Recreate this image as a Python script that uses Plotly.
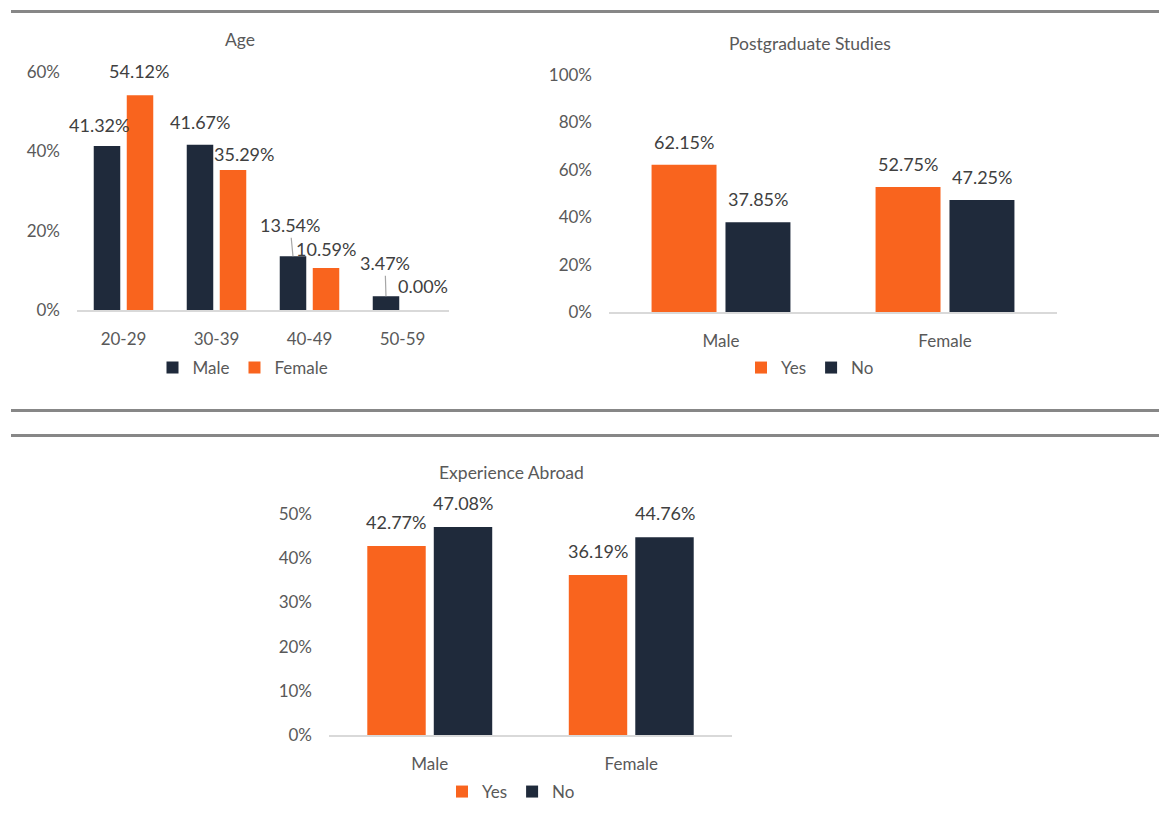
import plotly.graph_objects as go

# ---- data ----
age_groups = ["20-29", "30-39", "40-49", "50-59"]
age_male = [0.4132, 0.4167, 0.1354, 0.0347]
age_female = [0.5412, 0.3529, 0.1059, 0.0000]

genders = ["Male", "Female"]
postgrad_yes = [0.6215, 0.5275]
postgrad_no = [0.3785, 0.4725]

abroad_yes = [0.4277, 0.3619]
abroad_no = [0.4708, 0.4476]

# ---- style ----
NAVY = "#1F2A3B"
ORANGE = "#F9641E"
LABEL_COLOR = "#404040"
AXIS_TEXT = "#595959"
FONT = "Lato"
W, H = 1159, 827


def px_x(p):
    return p / W


def px_y(p):
    return 1 - p / H


fig = go.Figure()

# bar geometry (in category units)
AGE_W = 0.285
AGE_OFF = [-0.32, 0.035]
PAIR_W = 0.29
PAIR_OFF = [-0.31, 0.02]


def add_bars(xaxis, yaxis, values, name, color, width, offset, legend):
    fig.add_trace(go.Bar(
        x=list(range(len(values))), y=values, name=name,
        marker=dict(color=color, line=dict(width=0)),
        width=width, offset=offset,
        xaxis=xaxis, yaxis=yaxis, legend=legend,
        hoverinfo="skip",
    ))


add_bars("x", "y", age_male, "Male", NAVY, AGE_W, AGE_OFF[0], "legend")
add_bars("x", "y", age_female, "Female", ORANGE, AGE_W, AGE_OFF[1], "legend")
add_bars("x2", "y2", postgrad_yes, "Yes", ORANGE, PAIR_W, PAIR_OFF[0], "legend2")
add_bars("x2", "y2", postgrad_no, "No", NAVY, PAIR_W, PAIR_OFF[1], "legend2")
add_bars("x3", "y3", abroad_yes, "Yes", ORANGE, PAIR_W, PAIR_OFF[0], "legend3")
add_bars("x3", "y3", abroad_no, "No", NAVY, PAIR_W, PAIR_OFF[1], "legend3")

annotations = []


def label(xref, yref, x, v, xshift=0, yshift=23, leader=None):
    text = f"{v * 100:.2f}%"
    base = dict(xref=xref, yref=yref, x=x, y=v, text=text,
                font=dict(family=FONT, size=18, color=LABEL_COLOR))
    if leader is None:
        base.update(showarrow=False, xshift=xshift, yshift=yshift,
                    yanchor="middle", xanchor="center")
    else:
        ax, ay = leader
        base.update(showarrow=True, arrowhead=0, arrowwidth=1.2,
                    arrowcolor="#A6A6A6", ax=ax, ay=ay, standoff=0,
                    yanchor="middle", xanchor="center")
    annotations.append(base)


# Age labels: per-label nudges as laid out in the report
age_male_nudge = [dict(xshift=-8, yshift=21), dict(xshift=0, yshift=23),
                  dict(leader=(-3, -31)), dict(leader=(-1, -33))]
age_female_nudge = [dict(xshift=-1, yshift=24), dict(xshift=11, yshift=16),
                    dict(xshift=0, yshift=19), dict(xshift=4, yshift=24)]
for i, v in enumerate(age_male):
    label("x", "y", i + AGE_OFF[0] + AGE_W / 2, v, **age_male_nudge[i])
for i, v in enumerate(age_female):
    label("x", "y", i + AGE_OFF[1] + AGE_W / 2, v, **age_female_nudge[i])

for i, v in enumerate(postgrad_yes):
    label("x2", "y2", i + PAIR_OFF[0] + PAIR_W / 2, v, yshift=23)
for i, v in enumerate(postgrad_no):
    label("x2", "y2", i + PAIR_OFF[1] + PAIR_W / 2, v, yshift=23)
for i, v in enumerate(abroad_yes):
    label("x3", "y3", i + PAIR_OFF[0] + PAIR_W / 2, v, yshift=24)
for i, v in enumerate(abroad_no):
    label("x3", "y3", i + PAIR_OFF[1] + PAIR_W / 2, v, yshift=24)

# chart titles
for text, cx, cy in [("Age", 240, 40), ("Postgraduate Studies", 810, 43),
                     ("Experience Abroad", 511, 472)]:
    annotations.append(dict(xref="paper", yref="paper", x=px_x(cx), y=px_y(cy),
                            text=text, showarrow=False, xanchor="center",
                            yanchor="middle",
                            font=dict(family=FONT, size=17.5, color=AXIS_TEXT)))

# separator rules between panels
shapes = []
for yy in [11.5, 410.5, 435.5]:
    shapes.append(dict(type="line", xref="paper", yref="paper",
                       x0=px_x(11), x1=1, y0=px_y(yy), y1=px_y(yy),
                       line=dict(color="#878787", width=3)))


def xaxis_cfg(labels, left, right):
    return dict(domain=[px_x(left), px_x(right)],
                range=[-0.5, len(labels) - 0.5],
                tickmode="array", tickvals=list(range(len(labels))),
                ticktext=labels, showgrid=False, zeroline=False,
                showline=True, linecolor="#D9D9D9", linewidth=2,
                ticks="", ticklabelstandoff=13, fixedrange=True,
                automargin=False,
                tickfont=dict(family=FONT, size=17, color=AXIS_TEXT))


def yaxis_cfg(anchor, bottom, top, rmax, dtick):
    return dict(domain=[px_y(bottom), px_y(top)], range=[0, rmax],
                anchor=anchor, tickformat=".0%", dtick=dtick,
                showgrid=False, zeroline=False, showline=False, ticks="",
                ticklabelstandoff=16, fixedrange=True, automargin=False,
                tickfont=dict(family=FONT, size=17, color=AXIS_TEXT))


def legend_cfg(cx, cy):
    return dict(orientation="h", x=px_x(cx), y=px_y(cy), xanchor="center",
                yanchor="middle", bgcolor="rgba(0,0,0,0)",
                font=dict(family=FONT, size=17, color=AXIS_TEXT),
                itemclick=False, itemdoubleclick=False)


fig.update_layout(
    width=W, height=H,
    margin=dict(l=0, r=0, t=0, b=0, pad=0, autoexpand=False),
    paper_bgcolor="white", plot_bgcolor="white",
    barmode="overlay",
    showlegend=True,
    xaxis=dict(**xaxis_cfg(age_groups, 77, 449), anchor="y"),
    yaxis=yaxis_cfg("x", 310, 72, 0.6, 0.2),
    xaxis2=dict(**xaxis_cfg(genders, 609, 1057), anchor="y2"),
    yaxis2=yaxis_cfg("x2", 312, 75, 1.0, 0.2),
    xaxis3=dict(**xaxis_cfg(genders, 329, 732), anchor="y3"),
    yaxis3=yaxis_cfg("x3", 735, 514, 0.5, 0.1),
    legend=legend_cfg(243, 368),
    legend2=legend_cfg(810, 368),
    legend3=legend_cfg(511, 792),
    annotations=annotations,
    shapes=shapes,
)

fig.write_html("out.html")
